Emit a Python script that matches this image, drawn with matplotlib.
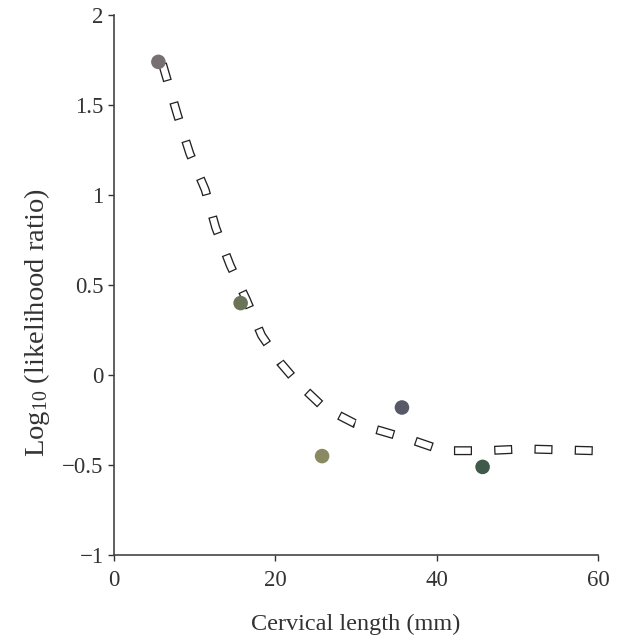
import matplotlib

matplotlib.use("Agg")

import matplotlib.pyplot as plt
import numpy as np

# measured patient groups
length_mm = [5.5, 15.7, 25.8, 35.7, 45.7]
log_lr = [1.74, 0.40, -0.45, -0.18, -0.51]
point_colors = ["#787070", "#6c7458", "#8a8a62", "#575868", "#3f5a4a"]

# fitted curve
curve_x = [6.0, 7.9, 9.4, 11.3, 12.6, 14.4, 16.4, 18.3, 20.6, 22.7,
           26.0, 29.9, 33.1, 36.9, 40.8, 46.0, 50.9, 59.4]
curve_y = [1.73, 1.44, 1.23, 1.03, 0.82, 0.61, 0.42, 0.22, 0.07, -0.04,
           -0.18, -0.27, -0.31, -0.36, -0.42, -0.42, -0.41, -0.42]

x_ticks = [0, 20, 40, 60]
y_ticks = [-1, -0.5, 0, 0.5, 1, 1.5, 2]
y_tick_labels = ["\u22121", "\u22120.5", "0", "0.5", "1", "1.5", "2"]

plt.rcParams.update(
    {
        "font.family": "Liberation Serif",
        "mathtext.fontset": "custom",
        "mathtext.rm": "Liberation Serif",
        "mathtext.it": "Liberation Serif:italic",
        "lines.scale_dashes": False,
        "axes.spines.top": False,
        "axes.spines.right": False,
    }
)

fig = plt.figure(figsize=(6.18, 6.41), dpi=100)
ax = fig.add_axes([0.1845, 0.134, 0.783, 0.8425])

# hollow dashes: thick black dash with a slightly shorter white dash on top
ax.plot(curve_x, curve_y, color="#222222", linewidth=6.5,
        linestyle=(0, (13, 16)), solid_joinstyle="round", zorder=2)
ax.plot(curve_x, curve_y, color="white", linewidth=4.6,
        linestyle=(28.1, (11.2, 17.8)), solid_joinstyle="round", zorder=3)

ax.scatter(length_mm, log_lr, s=110, c=point_colors, edgecolors="none", zorder=4)

ax.set_xlim(0, 60)
ax.set_ylim(-1, 2)
ax.set_xticks(x_ticks)
ax.set_yticks(y_ticks)
ax.set_yticklabels(y_tick_labels)
ax.tick_params(direction="out", length=4, width=1, labelsize=16.5, colors="#333333")
ax.tick_params(axis="x", pad=7)
for side in ("left", "bottom"):
    ax.spines[side].set_color("#444444")
    ax.spines[side].set_linewidth(1.2)

ax.set_xlabel("Cervical length (mm)", fontsize=17.5, color="#333333", labelpad=16)
ax.set_ylabel(r"Log$_{10}$ (likelihood ratio)", fontsize=20.5, color="#333333",
              va="center")
ax.yaxis.set_label_coords(-0.159, 0.43)

fig.savefig("out.png", dpi=100, facecolor="white")
plt.close(fig)
